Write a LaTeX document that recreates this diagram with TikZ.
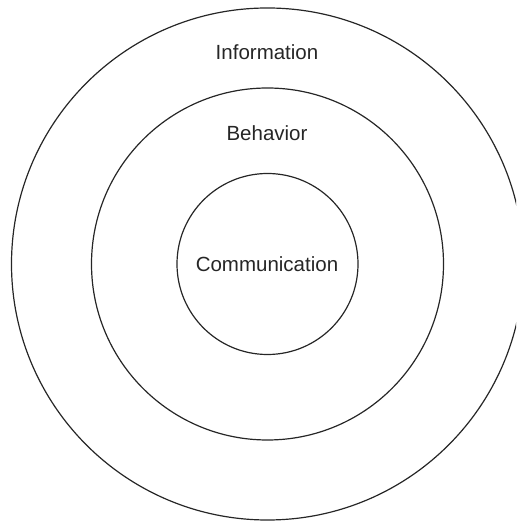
\documentclass[tikz,border=0pt]{standalone}
\usepackage{fontspec}
\setmainfont{Liberation Sans}
\usetikzlibrary{positioning}

\tikzset{
  ring/.style={draw=black!85, line width=1.2pt, circle, inner sep=0pt},
  ringlabel/.style={anchor=base, inner sep=0pt, text=black!85, font=\fontsize{20.5}{24}\selectfont}
}

\begin{document}
\begin{tikzpicture}[x=1pt, y=1pt, line join=round]

\useasboundingbox (0,0) rectangle (516,521);
\clip (0,0) rectangle (516,521);

\coordinate (centre) at (267.5, 257);

\node (outer) at (centre) [ring, minimum size=512pt] {};
\node (middle) at (centre) [ring, minimum size=352pt] {};
\node (inner) at (centre) [ring, minimum size=181pt] {};

\node (information) at (267, 461) [ringlabel] {Information};
\node (behavior) at (267, 380) [ringlabel] {Behavior};
\node (communication) at (267, 249) [ringlabel] {Communication};

\end{tikzpicture}
\end{document}
